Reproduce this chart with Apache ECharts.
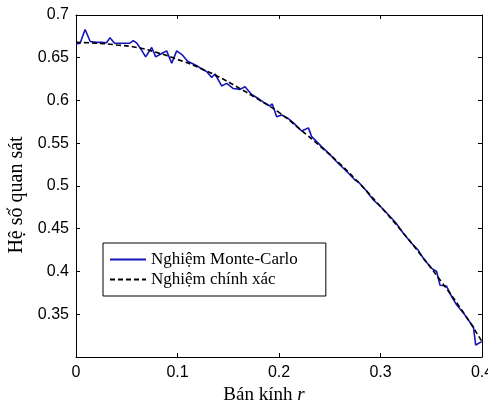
<!DOCTYPE html>
<html>
<head>
<meta charset="utf-8">
<script src="https://cdn.jsdelivr.net/npm/echarts@6/dist/echarts.min.js"></script>
<style>
html,body{margin:0;padding:0;background:#fff;}
#chart{width:488px;height:400px;}
</style>
</head>
<body>
<div id="chart"></div>
<script>
// Monte-Carlo solution (r, value)
const mcR = [0.000,0.004,0.009,0.014,0.020,0.025,0.030,0.0335,0.038,0.045,0.053,0.0565,0.060,0.064,0.0686,0.0746,0.0785,0.0844,0.0893,0.0943,0.0992,0.105,0.110,0.115,0.120,0.125,0.1287,0.1337,0.137,0.1435,0.1485,0.155,0.1616,0.1665,0.168,0.173,0.180,0.186,0.191,0.1934,0.1977,0.2027,0.209,0.215,0.2223,0.229,0.2322,0.242,0.250,0.2568,0.265,0.2749,0.278,0.285,0.293,0.300,0.308,0.315,0.3225,0.330,0.337,0.343,0.3504,0.3553,0.3586,0.365,0.370,0.375,0.382,0.388,0.3915,0.3938,0.3997];
const mcV = [0.666,0.667,0.683,0.669,0.668,0.668,0.6676,0.6735,0.667,0.667,0.667,0.670,0.667,0.660,0.651,0.662,0.651,0.655,0.658,0.6435,0.658,0.653,0.646,0.643,0.640,0.636,0.634,0.627,0.631,0.617,0.620,0.614,0.613,0.616,0.617,0.607,0.602,0.597,0.5936,0.596,0.581,0.583,0.579,0.573,0.5643,0.568,0.5577,0.546,0.537,0.5284,0.519,0.507,0.505,0.496,0.4836,0.476,0.466,0.457,0.4447,0.434,0.425,0.414,0.4037,0.400,0.384,0.383,0.371,0.361,0.351,0.341,0.3355,0.314,0.318];
// Exact solution
const exR = [0,0.02,0.04,0.06,0.08,0.10,0.12,0.14,0.16,0.18,0.20,0.22,0.24,0.26,0.28,0.30,0.32,0.34,0.36,0.38,0.40];
const exV = [0.668,0.667,0.665,0.662,0.656,0.648,0.639,0.628,0.615,0.601,0.586,0.567,0.547,0.526,0.502,0.476,0.4485,0.419,0.388,0.355,0.318];
const xTicks = [0,0.1,0.2,0.3,0.4];
const yTicks = [0.35,0.4,0.45,0.5,0.55,0.6,0.65,0.7];
const seriesNames = ['Nghiệm Monte-Carlo','Nghiệm chính xác'];

const chart = echarts.init(document.getElementById('chart'));
const tickStyle = {show:true, inside:true, length:4, lineStyle:{color:'#000'}};
const axisLineStyle = {show:true, onZero:false, lineStyle:{color:'#000', width:1}};
chart.setOption({
  animation:false,
  backgroundColor:'#fff',
  grid:{left:76, right:6, top:15, bottom:43, containLabel:false, outerBoundsMode:'none'},
  legend:{
    orient:'vertical', left:103, top:243,
    data:seriesNames,
    backgroundColor:'#fff', borderColor:'#000', borderWidth:1,
    padding:[8,28,8,6], itemGap:3, itemWidth:36, itemHeight:12,
    itemStyle:{opacity:0},
    textStyle:{fontFamily:'Liberation Serif', fontSize:17, color:'#000'}
  },
  xAxis:[{
    type:'value', min:0, max:0.4, interval:0.1,
    name:'{a|Bán kính }{b|r}', nameLocation:'middle', nameGap:21,
    nameTextStyle:{padding:[0,30,0,0], rich:{
      a:{fontFamily:'Liberation Serif', fontSize:19, color:'#000'},
      b:{fontFamily:'Liberation Serif', fontSize:19, fontStyle:'italic', color:'#000'}}},
    axisLine:axisLineStyle, axisTick:tickStyle, splitLine:{show:false},
    axisLabel:{fontFamily:'Liberation Sans', fontSize:16, color:'#000', margin:8,
      formatter:v=>xTicks.includes(+v.toFixed(2))? String(+v.toFixed(2)) : ''}
  },{
    type:'value', min:0, max:0.4, interval:0.1, position:'top',
    axisLine:axisLineStyle, axisTick:tickStyle, axisLabel:{show:false}, splitLine:{show:false}
  }],
  yAxis:[{
    type:'value', min:0.3, max:0.7, interval:0.05,
    name:'Hệ số quan sát', nameLocation:'middle', nameGap:36,
    nameTextStyle:{fontFamily:'Liberation Serif', fontSize:20, color:'#000', padding:[0,18,0,0]},
    axisLine:axisLineStyle, axisTick:tickStyle, splitLine:{show:false},
    axisLabel:{fontFamily:'Liberation Sans', fontSize:16, color:'#000', margin:7, showMinLabel:false,
      formatter:v=>String(+v.toFixed(2))}
  },{
    type:'value', min:0.3, max:0.7, interval:0.05, position:'right',
    axisLine:axisLineStyle, axisTick:tickStyle, axisLabel:{show:false}, splitLine:{show:false}
  }],
  series:[{
    name:seriesNames[0], type:'line', symbol:'none',
    data:mcR.map((r,i)=>[r,mcV[i]]),
    lineStyle:{color:'#1515b8', width:1.6}, itemStyle:{color:'#1515b8'}, z:2
  },{
    name:seriesNames[1], type:'line', symbol:'none', smooth:true,
    data:exR.map((r,i)=>[r,exV[i]]),
    lineStyle:{color:'#000', width:1.6, type:[5,3]}, itemStyle:{color:'#000'}, z:3
  }]
});
</script>
</body>
</html>
